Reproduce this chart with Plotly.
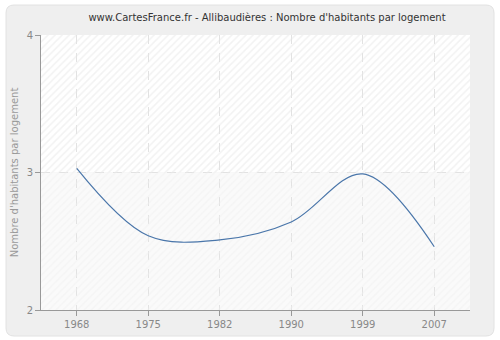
import plotly.graph_objects as go

years = ["1968", "1975", "1982", "1990", "1999", "2007"]
values = [3.03, 2.54, 2.51, 2.64, 2.99, 2.46]
y_ticks = [2, 3, 4]

title = "www.CartesFrance.fr - Allibaudières : Nombre d'habitants par logement"
y_title = "Nombre d'habitants par logement"

L, R, T, B = 41, 30, 35, 30
W, H = 500, 340
pw, ph = W - L - R, H - T - B

idx = list(range(len(years)))
xlo, xhi = -0.5, len(years) - 0.5


def px(x):
    return (x - L) / pw


def py(y):
    return (H - B - y) / ph


fig = go.Figure()

# hatched background bands
fig.add_trace(go.Scatter(
    x=[xlo, xhi, xhi, xlo, xlo], y=[3, 3, 4, 4, 3],
    mode="none", fill="toself", fillcolor="rgba(0,0,0,0)",
    fillpattern=dict(shape="/", fgcolor="#e6e6e6", bgcolor="rgba(0,0,0,0)", size=5, solidity=0.3),
    hoverinfo="skip", showlegend=False))
fig.add_trace(go.Scatter(
    x=[xlo, xhi, xhi, xlo, xlo], y=[2, 2, 3, 3, 2],
    mode="none", fill="toself", fillcolor="rgba(0,0,0,0)",
    fillpattern=dict(shape="/", fgcolor="#f0f0f0", bgcolor="rgba(0,0,0,0)", size=5, solidity=0.3),
    hoverinfo="skip", showlegend=False))

fig.add_trace(go.Scatter(
    x=idx, y=values, mode="lines",
    line=dict(color="#4a76aa", width=1.2, shape="spline", smoothing=1.0),
    showlegend=False, hoverinfo="skip"))

x0, x1, y0, y1, r = 6, 494, 5, 336, 8
path = (f"M {px(x0+r)},{py(y0)} L {px(x1-r)},{py(y0)} "
        f"Q {px(x1)},{py(y0)} {px(x1)},{py(y0+r)} L {px(x1)},{py(y1-r)} "
        f"Q {px(x1)},{py(y1)} {px(x1-r)},{py(y1)} L {px(x0+r)},{py(y1)} "
        f"Q {px(x0)},{py(y1)} {px(x0)},{py(y1-r)} L {px(x0)},{py(y0+r)} "
        f"Q {px(x0)},{py(y0)} {px(x0+r)},{py(y0)} Z")

fig.update_layout(
    width=W, height=H,
    margin=dict(l=L, r=R, t=T, b=B, autoexpand=False),
    paper_bgcolor="#ffffff",
    plot_bgcolor="#ffffff",
    font=dict(family="DejaVu Sans", size=10, color="#888888"),
    title=dict(text=title, x=267 / W, xanchor="center", y=1 - 17 / H, yanchor="middle",
               font=dict(family="DejaVu Sans", size=10, color="#333333")),
    shapes=[
        dict(type="path", path=path, xref="paper", yref="paper",
             fillcolor="#efefef", line=dict(color="#e2e2e2", width=1), layer="below"),
        dict(type="rect", xref="paper", yref="y", x0=0, x1=1, y0=3, y1=4,
             fillcolor="#ffffff", line=dict(width=0), layer="below"),
        dict(type="rect", xref="paper", yref="y", x0=0, x1=1, y0=2, y1=3,
             fillcolor="#fafafa", line=dict(width=0), layer="below"),
    ],
    xaxis=dict(range=[xlo, xhi], tickvals=idx, ticktext=years, showgrid=True,
               gridcolor="#e2e2e2", griddash="dash", gridwidth=1, showline=True,
               linecolor="#999999", linewidth=1, ticks="outside", ticklen=5,
               tickcolor="#999999", zeroline=False, automargin=False,
               tickfont=dict(size=10, color="#888888")),
    yaxis=dict(range=[2, 4], tickvals=y_ticks, showgrid=True, gridcolor="#e2e2e2",
               griddash="dash", gridwidth=1, showline=True, linecolor="#999999", linewidth=1,
               ticks="outside", ticklen=5, tickcolor="#999999", zeroline=False,
               automargin=False,
               title=dict(text=y_title, font=dict(size=10, color="#999999"), standoff=6),
               tickfont=dict(size=10, color="#888888")),
)

fig.write_html("out.html")
